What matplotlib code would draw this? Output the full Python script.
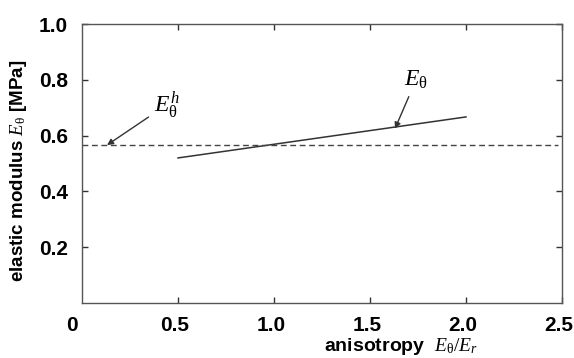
import numpy
from matplotlib import pyplot as plt
from matplotlib import transforms

plt.rcParams['font.family'] = ['Liberation Sans', 'DejaVu Sans']
plt.rcParams['font.weight'] = 'bold'
plt.rcParams['mathtext.fontset'] = 'custom'
plt.rcParams['mathtext.it'] = 'Liberation Serif:style=italic:weight=normal'
plt.rcParams['mathtext.rm'] = 'Liberation Serif:weight=normal'

# modulus vs anisotropy
anisotropy = [0.5, 1.0, 1.5, 2.0]
modulus = [0.52, 0.569, 0.618, 0.667]
# homogeneous reference value
modulusHomogeneous = 0.566

xTicks = [0.5, 1.0, 1.5, 2.0, 2.5]
xTickLabels = ['0.5', '1.0', '1.5', '2.0', '2.5']
yTicks = [0.2, 0.4, 0.6, 0.8, 1.0]
yTickLabels = ['0.2', '0.4', '0.6', '0.8', '1.0']

lineColor = '#333333'

fig = plt.figure(figsize=(5.74, 3.58), dpi=100)
ax = fig.add_axes([0.1429, 0.1536, 0.8362, 0.7793])

ax.plot(anisotropy, modulus, color=lineColor, linewidth=1.1)
ax.plot([0, 2.48], [modulusHomogeneous, modulusHomogeneous], color='#444444',
        linewidth=1.0, dashes=(4.2, 2.6))

ax.set_xlim(0, 2.5)
ax.set_ylim(0, 1.0)
ax.set_xticks(xTicks)
ax.set_xticklabels(xTickLabels)
ax.set_yticks(yTicks)
ax.set_yticklabels(yTickLabels)
ax.tick_params(direction='in', length=4.5, width=1.0, top=True, right=True,
               labelsize=15, color=lineColor)
ax.tick_params(axis='y', pad=10)
ax.tick_params(axis='x', pad=9)
for side in ax.spines:
    ax.spines[side].set_color('#555555')
    ax.spines[side].set_linewidth(1.0)

# tick labels sit a little left of their ticks
shift = transforms.ScaledTranslation(-3 / 100, 0, fig.dpi_scale_trans)
for label in ax.get_xticklabels():
    label.set_transform(label.get_transform() + shift)

# shared origin label
ax.text(-0.021, -0.048, '0', transform=ax.transAxes, ha='center', va='top',
        fontsize=15, fontweight='bold')

ax.set_ylabel(r'elastic modulus $E_{\mathrm{θ}}$ [MPa]', fontsize=13.5, fontweight='bold')
ax.yaxis.set_label_coords(-0.11, 0.475)
ax.set_xlabel(r'anisotropy  $E_{\mathrm{θ}}/E_r$', fontsize=14, fontweight='bold')
ax.xaxis.set_label_coords(0.665, -0.12)

arrowStyle = dict(arrowstyle='-|>', color=lineColor, linewidth=1.0, mutation_scale=9,
                  shrinkA=2, shrinkB=0)
ax.annotate(r'$E_{\mathrm{θ}}^h$', xy=(0.13, modulusHomogeneous), xytext=(0.44, 0.71),
            fontsize=17, ha='center', va='center', arrowprops=arrowStyle)
ax.annotate(r'$E_{\mathrm{θ}}$', xy=(1.63, 0.625), xytext=(1.74, 0.80),
            fontsize=17, ha='center', va='center', arrowprops=arrowStyle)

fig.savefig('out.png', dpi=100)
plt.close(fig)
